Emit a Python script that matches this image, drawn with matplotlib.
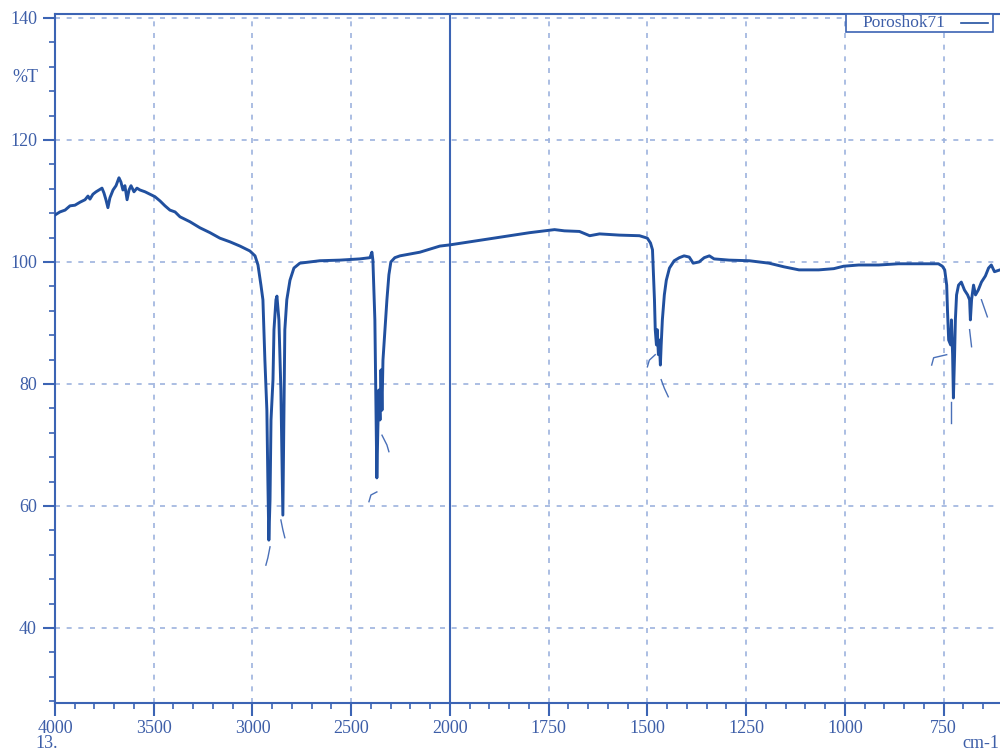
import numpy as np
import matplotlib
matplotlib.use("Agg")
import matplotlib.pyplot as plt
from matplotlib.ticker import FixedLocator, MultipleLocator

# ===== 数据：波数 (cm-1) 与透过率 (%T) =====
wavenumber = [
    4000, 3975, 3949, 3924, 3899, 3873, 3848, 3833, 3823, 3808,
    3792, 3777, 3762, 3752, 3742, 3732, 3722, 3706, 3691, 3676,
    3666, 3656, 3646, 3635, 3625, 3615, 3600, 3585, 3570, 3544,
    3519, 3494, 3468, 3443, 3418, 3392, 3367, 3317, 3266, 3215,
    3165, 3114, 3063, 3013, 2987, 2972, 2957, 2947, 2937, 2927,
    2922, 2917, 2911, 2906, 2896, 2891, 2881, 2876, 2866, 2856,
    2851, 2846, 2841, 2836, 2826, 2810, 2790, 2760, 2659, 2557,
    2456, 2405, 2395, 2390, 2380, 2375, 2370, 2365, 2360, 2354,
    2349, 2344, 2339, 2329, 2319, 2309, 2299, 2279, 2253, 2203,
    2152, 2101, 2051, 2000, 1950, 1899, 1848, 1798, 1760, 1735,
    1710, 1672, 1646, 1621, 1571, 1520, 1500, 1492, 1487, 1485,
    1482, 1480, 1477, 1475, 1472, 1470, 1467, 1465, 1462, 1457,
    1452, 1444, 1432, 1419, 1407, 1394, 1384, 1369, 1356, 1343,
    1331, 1293, 1242, 1192, 1154, 1116, 1066, 1028, 1003, 965,
    914, 864, 813, 763, 753, 747, 742, 740, 737, 732,
    730, 727, 725, 722, 720, 717, 712, 705, 697, 689,
    684, 682, 679, 674, 669, 662, 654, 644, 636, 629,
    621, 607,
]
transmittance = [
    107.7, 108.2, 108.5, 109.2, 109.3, 109.8, 110.2, 110.8, 110.3, 111.1,
    111.5, 111.8, 112.1, 111.3, 110.2, 108.9, 110.5, 111.8, 112.5, 113.8,
    113.1, 111.8, 112.5, 110.2, 111.8, 112.5, 111.5, 112.1, 111.8, 111.5,
    111.1, 110.7, 110.0, 109.2, 108.5, 108.2, 107.4, 106.6, 105.6, 104.8,
    103.9, 103.3, 102.6, 101.8, 101.0, 99.5, 96.2, 93.8, 83.9, 75.7,
    64.3, 54.4, 61.0, 74.1, 80.7, 88.9, 93.8, 94.4, 90.5, 79.0,
    69.2, 58.5, 74.1, 88.9, 93.8, 97.0, 99.0, 99.8, 100.2, 100.3,
    100.5, 100.7, 101.6, 100.3, 90.5, 77.4, 64.6, 72.5, 79.0, 74.1,
    82.3, 75.7, 83.9, 88.9, 93.8, 97.9, 100.0, 100.7, 101.0, 101.3,
    101.6, 102.1, 102.6, 102.8, 103.3, 103.8, 104.3, 104.8, 105.1, 105.3,
    105.1, 105.0, 104.3, 104.6, 104.4, 104.3, 103.9, 103.1, 102.0, 98.7,
    93.8, 88.9, 86.4, 88.9, 84.8, 87.2, 83.1, 86.4, 90.5, 94.6,
    97.0, 99.0, 100.2, 100.7, 101.0, 100.8, 99.8, 100.0, 100.7, 101.0,
    100.5, 100.3, 100.2, 99.8, 99.2, 98.7, 98.7, 98.9, 99.3, 99.5,
    99.5, 99.7, 99.7, 99.7, 99.3, 98.7, 96.2, 92.1, 87.2, 86.4,
    90.5, 84.8, 77.7, 84.8, 90.5, 94.6, 96.2, 96.7, 95.4, 94.6,
    93.8, 90.5, 93.8, 96.2, 94.6, 95.4, 96.7, 97.7, 99.0, 99.5,
    98.4, 98.7,
]

# 扫描残留的细线片段 (波数, %T)
fragment_wn = [
    [2911, 2922, 2932],
    [2856, 2846, 2836],
    [2410, 2400, 2370],
    [2344, 2319, 2309],
    [1500, 1495, 1480],
    [1465, 1457, 1447],
    [780, 775, 742],
    [730, 730],
    [684, 679],
    [654, 639],
]
fragment_t = [
    [53.3, 51.5, 50.3],
    [57.7, 56.1, 54.8],
    [60.7, 61.8, 62.3],
    [71.6, 70.0, 68.9],
    [82.8, 83.9, 84.8],
    [80.7, 79.3, 77.9],
    [83.1, 84.3, 84.8],
    [77.0, 73.6],
    [88.9, 86.1],
    [93.8, 91.0],
]

x_major_left = [4000, 3500, 3000, 2500, 2000]
x_major_right = [1750, 1500, 1250, 1000, 750]
y_major = [40, 60, 80, 100, 120, 140]

LINE_COLOR = "#21509f"
AXIS_COLOR = "#3c64b4"
GRID_COLOR = "#9db3de"
TEXT_COLOR = "#3d5ea8"


def forward(x):
    x = np.asarray(x, dtype=float)
    return np.where(x >= 2000, x, 2 * x - 2000)


def inverse(u):
    u = np.asarray(u, dtype=float)
    return np.where(u >= 2000, u, (u + 2000) / 2)


plt.rcParams["font.family"] = ["Liberation Serif", "DejaVu Serif"]

fig = plt.figure(figsize=(10, 7.51), dpi=100)
ax = fig.add_axes([0.055, 0.0639, 0.945, 0.9175])
ax.set_xscale("function", functions=(forward, inverse))
ax.set_xlim(4000, 607)
ax.set_ylim(27.7, 140.65)

# 网格线
for value in x_major_left[1:-1] + x_major_right:
    ax.axvline(value, color=GRID_COLOR, lw=1.2, ls=(0, (3, 4)), zorder=1)
for value in y_major:
    ax.axhline(value, color=GRID_COLOR, lw=1.2, ls=(0, (3, 4)), zorder=1)
ax.axvline(2000, color=AXIS_COLOR, lw=1.5, zorder=2)

ax.plot(wavenumber, transmittance, color=LINE_COLOR, lw=2.1, zorder=3)
for wn_part, t_part in zip(fragment_wn, fragment_t):
    ax.plot(wn_part, t_part, color="#4a70b8", lw=1.0, zorder=3)

# 坐标轴和刻度
for side in ["left", "bottom", "top"]:
    ax.spines[side].set_color(AXIS_COLOR)
    ax.spines[side].set_linewidth(1.5)
ax.spines["right"].set_visible(False)

ax.xaxis.set_major_locator(FixedLocator(x_major_left + x_major_right))
minor_x = list(range(3900, 2000, -100)) + list(range(1950, 600, -50))
ax.xaxis.set_minor_locator(FixedLocator(minor_x))
ax.yaxis.set_major_locator(FixedLocator(y_major))
ax.yaxis.set_minor_locator(MultipleLocator(4))
ax.set_xticklabels([str(v) for v in x_major_left + x_major_right])

ax.tick_params(axis="both", which="major", direction="out", length=9,
               width=1.5, color=AXIS_COLOR, labelcolor=TEXT_COLOR,
               labelsize=13, pad=3)
ax.tick_params(axis="both", which="minor", direction="out", length=4.5,
               width=1.2, color=AXIS_COLOR)
ax.tick_params(axis="y", which="major", pad=4)
ax.tick_params(top=False, right=False, which="both")

fig.text(0.012, 1 - 78 / 751, "%T", color=TEXT_COLOR, fontsize=13,
         ha="left", va="center")
fig.text(0.035, 1 - 744 / 751, "13.", color=TEXT_COLOR, fontsize=13,
         ha="left", va="center")
fig.text(0.999, 1 - 744 / 751, "cm-1", color=TEXT_COLOR, fontsize=13,
         ha="right", va="center")

# 图例框
legend_box = plt.Rectangle((0.846, 1 - 32 / 751), 0.147, 18 / 751,
                           transform=fig.transFigure, facecolor="white",
                           edgecolor=AXIS_COLOR, lw=1.2, zorder=5)
fig.add_artist(legend_box)
fig.text(0.862, 1 - 23 / 751, "Poroshok71", color=TEXT_COLOR, fontsize=12.5,
         ha="left", va="center", zorder=6)
fig.add_artist(plt.Line2D([0.961, 0.988], [1 - 23 / 751, 1 - 23 / 751],
                          transform=fig.transFigure, color=LINE_COLOR,
                          lw=1.2, zorder=6))

fig.savefig("out.png", dpi=100)
